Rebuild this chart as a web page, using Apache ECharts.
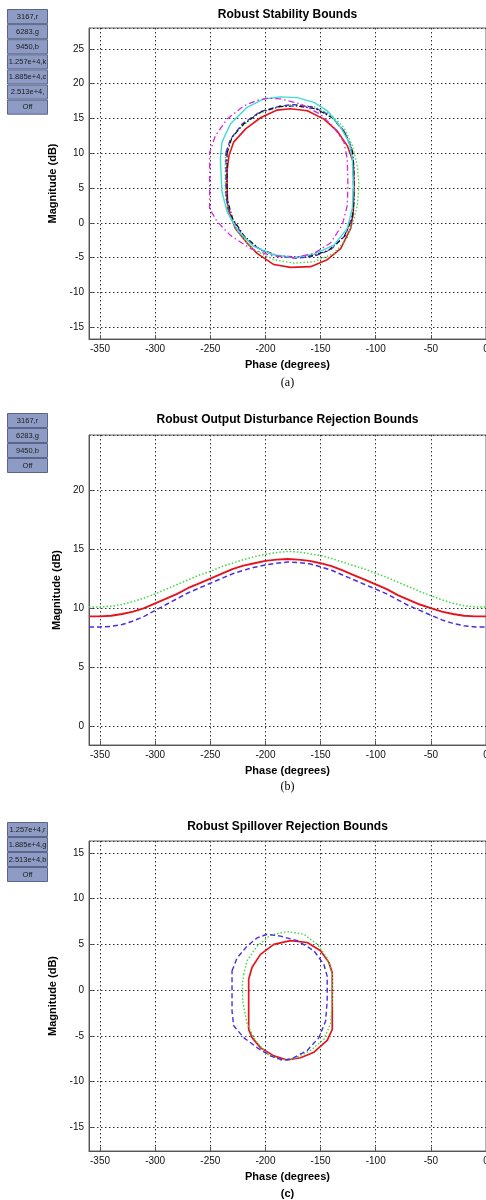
<!DOCTYPE html>
<html><head><meta charset="utf-8">
<script src="https://cdn.jsdelivr.net/npm/echarts@6/dist/echarts.min.js"></script>
<style>html,body{margin:0;padding:0;background:#fff;overflow:hidden}#c{width:486px;height:1200px}</style>
</head><body><div id="c"></div>
<script>
// ---------- Panel (a): Robust Stability Bounds, [phase (deg), magnitude (dB)] ----------
const stab3167 = [[-234.8,7.5],[-233,9.7],[-228.8,11.6],[-218,13.5],[-204.5,15.1],[-189.4,16.2],[-177.3,16.4],[-162,16.1],[-147,14.9],[-135,13.2],[-125.8,11.1],[-120.3,8.7],[-119.7,5.4],[-120.3,1.6],[-122.7,-0.8],[-131.8,-3.7],[-144,-5.3],[-159,-6.3],[-177.3,-6.4],[-192.4,-6.0],[-207.6,-4.4],[-216.7,-2.9],[-227.3,-0.8],[-234.2,2.1],[-234.8,5.4],[-234.8,7.5]];
const stab6283 = [[-236.4,9.7],[-231.8,12.0],[-222.7,13.7],[-207.6,15.6],[-189.4,16.7],[-174.2,17.0],[-156,16.7],[-141,15.6],[-128.8,13.7],[-121.2,11.1],[-116.7,8.2],[-115.2,5.4],[-116.7,2.5],[-119.7,0.6],[-125.8,-2.2],[-137.9,-4.4],[-156,-5.6],[-174.2,-5.8],[-192.4,-5.3],[-210.6,-3.9],[-224.2,-1.5],[-233.3,1.1],[-236.4,4.4],[-236.4,9.7]];
const stab9450 = [[-235.8,10.1],[-231.8,12.0],[-221.2,14.2],[-204.5,16.0],[-186.4,16.8],[-174.2,17.0],[-156,16.6],[-141,15.4],[-128.8,13.2],[-122.1,10.9],[-120.3,8.2],[-120.3,3.5],[-121.2,1.1],[-127.3,-1.8],[-141,-3.9],[-156,-4.8],[-171.2,-5.1],[-189.4,-4.8],[-204.5,-3.9],[-219.7,-2.0],[-230.3,0.6],[-235.8,3.5],[-235.8,10.1]];
const stab12570 = [[-234.8,10.0],[-230.3,12.3],[-219.7,14.2],[-204.5,15.9],[-186.4,16.7],[-172.7,16.8],[-154.5,16.4],[-139.4,15.1],[-128.2,13.0],[-121.2,10.4],[-119.7,7.8],[-119.7,3.0],[-121.2,0.6],[-128.8,-2.0],[-142.4,-3.9],[-156,-4.7],[-172.7,-4.9],[-189.4,-4.7],[-206.1,-3.7],[-219.7,-1.8],[-229.7,0.6],[-234.8,3.5],[-234.8,10.0]];
const stab18850 = [[-240.9,9.2],[-239.4,11.6],[-231.8,14.2],[-216.7,16.6],[-201.5,17.8],[-186.4,18.1],[-171.2,18.0],[-156,17.3],[-143.9,16.1],[-131.8,13.7],[-124.2,11.6],[-121.2,9.2],[-120.3,5.4],[-121.2,2.1],[-125.8,-0.8],[-137.9,-3.2],[-156,-4.5],[-174.2,-5.0],[-192.4,-4.6],[-210.6,-3.4],[-224.2,-1.3],[-234.8,1.6],[-239.4,4.4],[-240.9,9.2]];
const stab25130 = [[-250.6,2.0],[-250.6,10.1],[-245.5,12.5],[-234.8,14.9],[-219.7,16.8],[-207.6,17.6],[-198.5,17.9],[-186.4,17.8],[-168.2,17.1],[-150,15.6],[-137.9,13.7],[-128.8,11.6],[-125.8,9.2],[-125.2,5.4],[-125.8,2.5],[-130.3,-0.3],[-141,-2.9],[-156,-4.4],[-174.2,-5.0],[-195.5,-4.7],[-213.6,-3.7],[-231.8,-1.8],[-243.9,0.2],[-250.6,2.0]];

// ---------- Panel (b): Robust Output Disturbance Rejection Bounds ----------
const distPhase = [-360,-350,-340,-330,-320,-310,-300,-290,-280,-270,-260,-250,-240,-230,-220,-210,-200,-190,-180,-170,-160,-150,-140,-130,-120,-110,-100,-90,-80,-70,-60,-50,-40,-30,-20,-10,0];
const dist3167 = [9.3,9.3,9.35,9.5,9.7,10.0,10.4,10.8,11.2,11.7,12.1,12.5,12.9,13.3,13.6,13.8,14.0,14.1,14.15,14.1,14.0,13.8,13.55,13.2,12.8,12.4,12.0,11.6,11.1,10.7,10.3,10.0,9.7,9.5,9.35,9.3,9.3];
const dist6283 = [10.1,10.1,10.15,10.3,10.55,10.85,11.2,11.6,12.0,12.4,12.8,13.1,13.5,13.8,14.1,14.35,14.55,14.7,14.8,14.75,14.6,14.45,14.2,13.9,13.6,13.3,12.95,12.6,12.2,11.8,11.4,11.05,10.7,10.4,10.2,10.1,10.1];
const dist9450 = [8.4,8.4,8.45,8.6,8.9,9.3,9.8,10.3,10.8,11.3,11.7,12.1,12.5,12.9,13.2,13.45,13.65,13.8,13.9,13.85,13.75,13.5,13.2,12.8,12.4,12.0,11.6,11.2,10.7,10.2,9.8,9.4,9.0,8.7,8.5,8.4,8.4];

// ---------- Panel (c): Robust Spillover Rejection Bounds ----------
const spill12570 = [[-215.2,1.2],[-212.1,2.5],[-204.5,3.9],[-192.4,5.0],[-177.3,5.4],[-162.1,5.2],[-150,4.3],[-142.4,3.0],[-139.4,1.9],[-139.4,-1.2],[-139.4,-4.3],[-144,-5.5],[-156,-6.8],[-168.2,-7.4],[-180.3,-7.65],[-192.4,-7.2],[-204.5,-6.3],[-212.1,-5.2],[-215.2,-4.3],[-215.2,-1.2],[-215.2,1.2]];
const spill18850 = [[-219.7,1.7],[-216.7,3.2],[-207.6,4.8],[-195.5,6.0],[-180.3,6.4],[-165.2,6.1],[-153,5.0],[-144,3.5],[-139.4,1.7],[-139.4,-1.2],[-141,-3.7],[-147,-5.4],[-159.1,-6.6],[-174.2,-7.5],[-186.4,-7.65],[-198.5,-7.0],[-209.1,-5.5],[-216.7,-3.7],[-220.6,-1.2],[-220.9,0.6],[-219.7,1.7]];
const spill25130 = [[-230.3,2.1],[-225.8,3.5],[-216.7,4.8],[-207.6,5.7],[-198.5,6.1],[-186.4,5.9],[-171.2,5.4],[-156,4.3],[-147,2.8],[-144,1.5],[-144,-1.2],[-145.5,-3.4],[-151.5,-5.2],[-162.1,-6.6],[-174.2,-7.4],[-183.3,-7.7],[-195.5,-7.2],[-207.6,-6.3],[-219.7,-5.2],[-228.8,-3.9],[-230.3,-2.3],[-230.3,2.1]];

// ---------- Texts ----------
const titles = ['Robust Stability Bounds','Robust Output Disturbance Rejection Bounds','Robust Spillover Rejection Bounds'];
const captions = ['(a)','(b)','(c)'];
const btnA = ['3167,r','6283,g','9450,b','1.257e+4,k','1.885e+4,c','2.513e+4,m','Off'];
const btnB = ['3167,r','6283,g','9450,b','Off'];
const btnC = ['1.257e+4,r','1.885e+4,g','2.513e+4,b','Off'];

// ---------- Layout ----------
const FONT = '"Liberation Sans", Arial, sans-serif';
const grids = [
  {left:89, top:28, width:397, height:311},
  {left:89, top:435, width:397, height:310},
  {left:89, top:841, width:397, height:310}
];
const yRanges = [[-16.7,28,9],[-1.6,24.66,5],[-17.6,16.3,7]];
const titleY = [15, 420, 827];
const captionY = [383, 787, 1194];

const RED='#e5141c', GREEN='#3fd83f', BLUE='#4a2ee0', BLACK='#111111', CYAN='#40dada', MAGENTA='#d828d8';

function xAx(gi){
  return {type:'value', gridIndex:gi, min:-360, max:0, splitNumber:7,
    axisLine:{show:true, onZero:false, lineStyle:{color:'#555', width:1}},
    axisTick:{show:true, inside:true, length:4, lineStyle:{color:'#555'}},
    axisLabel:{showMinLabel:false, color:'#111', fontSize:10, margin:5, fontFamily:FONT},
    splitLine:{show:true, lineStyle:{color:'#333', type:[1.5,2.5], width:1}},
    name:'Phase (degrees)', nameLocation:'middle', nameGap:20,
    nameTextStyle:{fontWeight:'bold', fontSize:11, color:'#000', fontFamily:FONT}};
}
function yAx(gi){
  const r = yRanges[gi];
  return {type:'value', gridIndex:gi, min:r[0], max:r[1], splitNumber:r[2],
    axisLine:{show:true, onZero:false, lineStyle:{color:'#555', width:1}},
    axisTick:{show:true, inside:true, length:4, lineStyle:{color:'#555'}},
    axisLabel:{showMinLabel:false, showMaxLabel:false, color:'#111', fontSize:10, margin:5, fontFamily:FONT},
    splitLine:{show:true, lineStyle:{color:'#333', type:[1.5,2.5], width:1}},
    name:'Magnitude (dB)', nameLocation:'middle', nameGap:24, nameRotate:90,
    nameTextStyle:{fontWeight:'bold', fontSize:11, color:'#000', fontFamily:FONT}};
}
function line(name, data, gi, color, type, width){
  return {name, type:'line', xAxisIndex:gi, yAxisIndex:gi, data, showSymbol:false, symbol:'none',
    smooth:false, animation:false, silent:true, z:3,
    lineStyle:{color, type, width:width||1.2}};
}
function buttons(labels, top, h){
  return labels.map((t,i)=>({type:'group', left:7, top:top+i*h, children:[
    {type:'rect', shape:{x:0,y:0,width:40,height:h-1}, style:{fill:'#8e9cc5', stroke:'#5b6587', lineWidth:1}},
    {type:'text', x:20, y:(h-1)/2, style:{text:t, fill:'#1c1c1c', font:'7.5px '+FONT, align:'center', verticalAlign:'middle', width:40, overflow:'truncate', ellipsis:''}}
  ]}));
}
const zip = (xs, ys) => xs.map((x,i)=>[x, ys[i]]);
const DASHDOT = [5,2,1.5,2];

const graphic = [].concat(
  buttons(btnA, 9, 15.1),
  buttons(btnB, 413, 15),
  buttons(btnC, 822, 15),
  titles.map((t,i)=>({type:'text', x:287.5, y:titleY[i], style:{text:t, fill:'#000', font:'bold 12px '+FONT, align:'center', verticalAlign:'middle'}})),
  captions.map((t,i)=>({type:'text', x:287.5, y:captionY[i], style:{text:t, fill:'#000', font:(i===2?'bold 11px '+FONT:'12px "Liberation Serif", serif'), align:'center', verticalAlign:'middle'}}))
);

const chart = echarts.init(document.getElementById('c'), null, {renderer:'canvas'});
chart.setOption({
  backgroundColor:'#fff',
  animation:false,
  grid: grids.map(g=>Object.assign({show:true, borderColor:'#666', borderWidth:1, backgroundColor:'#fff', containLabel:false, outerBoundsMode:'none'}, g)),
  xAxis:[xAx(0), xAx(1), xAx(2)],
  yAxis:[yAx(0), yAx(1), yAx(2)],
  graphic,
  series:[
    line('3167', stab3167, 0, RED, 'solid', 1.6),
    line('6283', stab6283, 0, GREEN, [1.5,2], 1.3),
    line('9450', stab9450, 0, BLUE, [5,3], 1.3),
    line('1.257e+4', stab12570, 0, BLACK, DASHDOT, 1.2),
    line('1.885e+4', stab18850, 0, CYAN, 'solid', 1.4),
    line('2.513e+4', stab25130, 0, MAGENTA, [6,3,1.5,3], 1.3),
    line('3167', zip(distPhase, dist3167), 1, RED, 'solid', 1.9),
    line('6283', zip(distPhase, dist6283), 1, GREEN, [1.5,2], 1.5),
    line('9450', zip(distPhase, dist9450), 1, BLUE, [5,3], 1.5),
    line('1.257e+4', spill12570, 2, RED, 'solid', 1.7),
    line('1.885e+4', spill18850, 2, GREEN, [1.5,2], 1.4),
    line('2.513e+4', spill25130, 2, BLUE, [5,3], 1.4)
  ]
});
</script></body></html>
